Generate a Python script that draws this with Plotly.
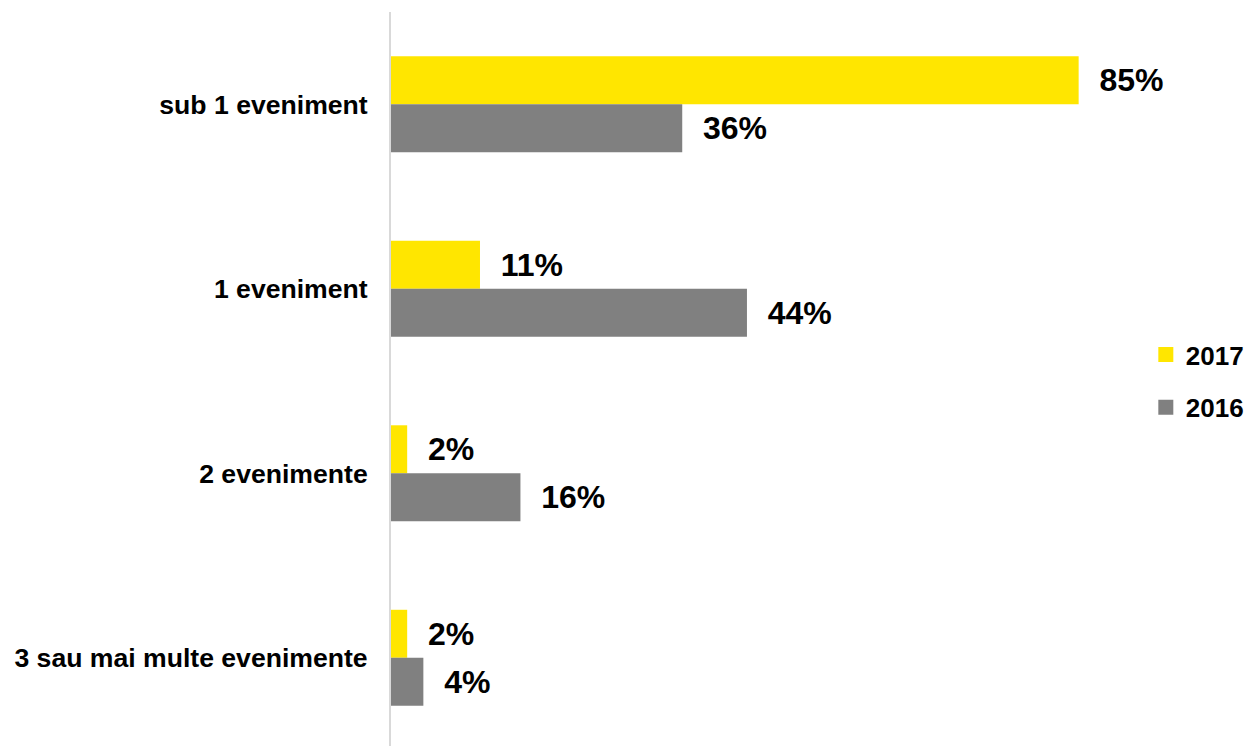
import plotly.graph_objects as go

categories = ["sub 1 eveniment", "1 eveniment", "2 evenimente", "3 sau mai multe evenimente"]
values_2017 = [85, 11, 2, 2]
values_2016 = [36, 44, 16, 4]
series_names = ["2017", "2016"]
colors = ["#FFE600", "#808080"]

FONT = "Arial, 'Liberation Sans', sans-serif"

fig = go.Figure()
for name, vals, col in zip(series_names, [values_2017, values_2016], colors):
    fig.add_trace(go.Bar(
        y=categories, x=vals, orientation="h", name=name,
        marker=dict(color=col, line=dict(width=0)),
        text=[f"{v}%" for v in vals],
        texttemplate="  %{text}",
        textposition="outside",
        constraintext="none",
        cliponaxis=False,
        textfont=dict(family=FONT, size=32, color="#000000", weight="bold"),
        showlegend=False,
        hoverinfo="skip",
    ))
    # legend entry with a larger square swatch
    fig.add_trace(go.Scatter(
        x=[None], y=[None], mode="markers", name=name,
        marker=dict(symbol="square", size=15, color=col),
        legendgroup=name, showlegend=True,
    ))

L, R = 383, 50
W = 1245
plot_w = W - L - R

fig.update_layout(
    width=W, height=746,
    margin=dict(l=L, r=R, t=4, b=4),
    paper_bgcolor="white", plot_bgcolor="white",
    barmode="group", bargap=0.48, bargroupgap=0,
    font=dict(family=FONT, color="#000000"),
    legend=dict(
        x=(W - 1 - L) / plot_w, xanchor="right", y=0.5, yanchor="middle",
        font=dict(family=FONT, size=26, color="#000000", weight="bold"),
        traceorder="grouped", tracegroupgap=16,
        itemwidth=30, bgcolor="rgba(0,0,0,0)",
    ),
    xaxis=dict(range=[0, 100], showgrid=False, zeroline=False, showline=False,
               showticklabels=False, ticks=""),
    yaxis=dict(type="category", categoryorder="array", categoryarray=categories,
               range=[3.5, -0.5], showgrid=False, zeroline=False,
               showline=True, linecolor="#D9D9D9", linewidth=2,
               ticks="outside", ticklen=16, tickcolor="rgba(0,0,0,0)",
               tickfont=dict(family=FONT, size=26.6, color="#000000", weight="bold")),
)

fig.write_html("out.html")
